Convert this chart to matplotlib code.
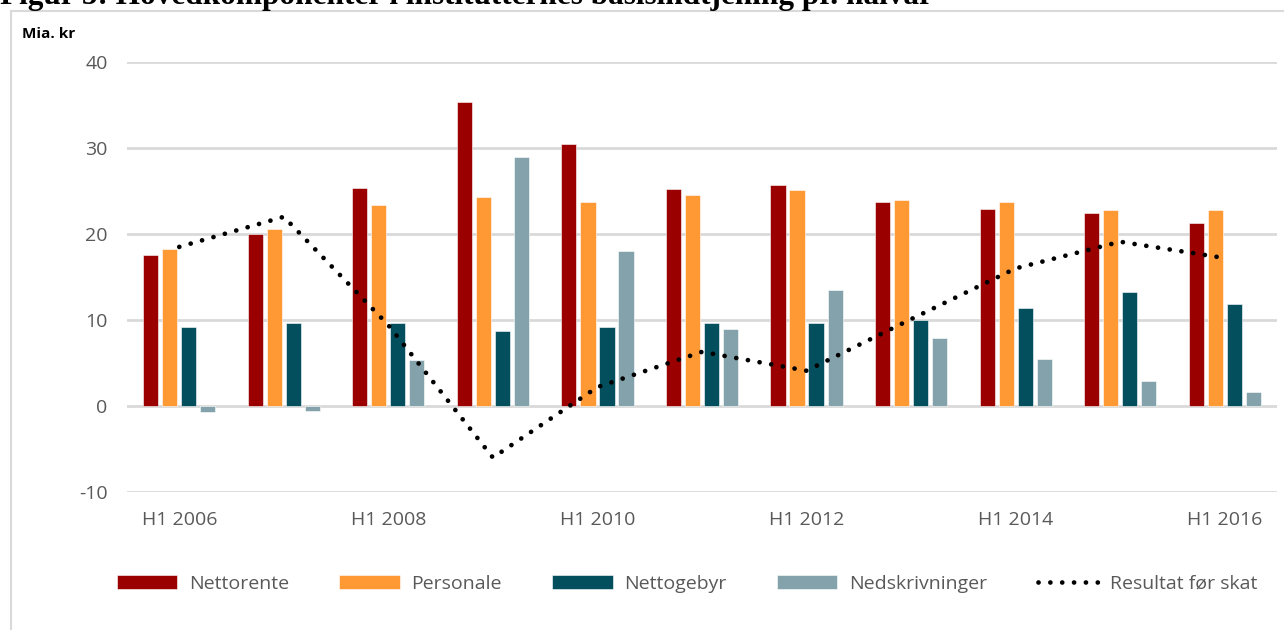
import matplotlib
matplotlib.use("Agg")
import matplotlib.pyplot as plt
import matplotlib.patches as mpatches
import numpy as np

# Half-year periods (H1 2006 .. H1 2016)
periods = ["H1 2006", "H2 2006", "H1 2008", "H2 2008", "H1 2010", "H2 2010",
           "H1 2012", "H2 2012", "H1 2014", "H2 2014", "H1 2016"]
tick_labels = ["H1 2006", "", "H1 2008", "", "H1 2010", "",
               "H1 2012", "", "H1 2014", "", "H1 2016"]

nettorente = [17.6, 20.0, 25.4, 35.3, 30.5, 25.2, 25.7, 23.7, 22.9, 22.5, 21.3]
personale = [18.3, 20.6, 23.4, 24.3, 23.7, 24.5, 25.1, 23.9, 23.7, 22.8, 22.8]
nettogebyr = [9.2, 9.7, 9.7, 8.7, 9.2, 9.6, 9.7, 10.0, 11.4, 13.3, 11.9]
nedskrivninger = [-0.7, -0.6, 5.4, 28.9, 18.0, 8.9, 13.5, 7.9, 5.5, 2.9, 1.6]
resultat = [18.5, 22.0, 9.4, -6.0, 2.2, 6.3, 4.1, 10.1, 16.0, 19.1, 17.2]

series = [("Nettorente", nettorente, "#9B0000"),
          ("Personale", personale, "#FF9933"),
          ("Nettogebyr", nettogebyr, "#034F5E"),
          ("Nedskrivninger", nedskrivninger, "#84A2AB")]

FONT = "Open Sans"
TXT = "#595959"
plt.rcParams["axes.unicode_minus"] = False

fig = plt.figure(figsize=(12.84, 6.30), dpi=100)

# Figure title, cut off at the top edge as in the source document
fig.text(0.0, 1 - 4 / 630, "Figur 5: Hovedkomponenter i institutternes basisindtjening pr. halvår",
         fontfamily="Liberation Serif", fontweight="bold", fontsize=22.5,
         ha="left", va="baseline", color="black")

# Chart frame
frame = mpatches.Rectangle((11 / 1284, -0.01), 1.1, 1 - 11 / 630 + 0.01,
                           transform=fig.transFigure, fill=False,
                           edgecolor="#D9D9D9", linewidth=1.5)
fig.patches.append(frame)

ax = fig.add_axes([127 / 1284, 1 - 492 / 630, 1150 / 1284, 430 / 630])

x = np.arange(len(periods))
step = 0.182
width = 0.145
handles = []
for i, (name, vals, col) in enumerate(series):
    b = ax.bar(x + (i - 1.5) * step, vals, width=width, color=col,
               edgecolor="white", linewidth=0.4, label=name, zorder=2)
    handles.append(b)

line, = ax.plot(x, resultat, color="black", linewidth=3.4,
                linestyle=(0, (0.01, 2.5)), dash_capstyle="round",
                label="Resultat før skat", zorder=3)
handles.append(line)

ax.set_xlim(-0.5, len(periods) - 0.5)
ax.set_ylim(-10, 40)
ax.set_yticks([-10, 0, 10, 20, 30, 40])
ax.set_xticks(x)
ax.set_xticklabels(tick_labels)
ax.tick_params(axis="both", length=0, labelsize=14, labelcolor=TXT)
ax.tick_params(axis="x", pad=14)
ax.tick_params(axis="y", pad=14)
for lab in ax.get_xticklabels() + ax.get_yticklabels():
    lab.set_fontfamily(FONT)
ax.yaxis.grid(True, color="#D9D9D9", linewidth=2)
ax.set_axisbelow(True)
for s in ax.spines.values():
    s.set_visible(False)

fig.text(22 / 1284, 1 - 34 / 630, "Mia. kr", fontfamily=FONT, fontweight="bold",
         fontsize=11, ha="left", va="center", color="black")

leg = fig.legend(handles=handles, loc="center", bbox_to_anchor=(0.535, 1 - 584 / 630),
                 ncol=5, frameon=False, handlelength=3.1, handleheight=0.75,
                 handletextpad=0.6, columnspacing=2.6,
                 prop={"family": FONT, "size": 14})
for t in leg.get_texts():
    t.set_color(TXT)

fig.savefig("out.png", dpi=100)
